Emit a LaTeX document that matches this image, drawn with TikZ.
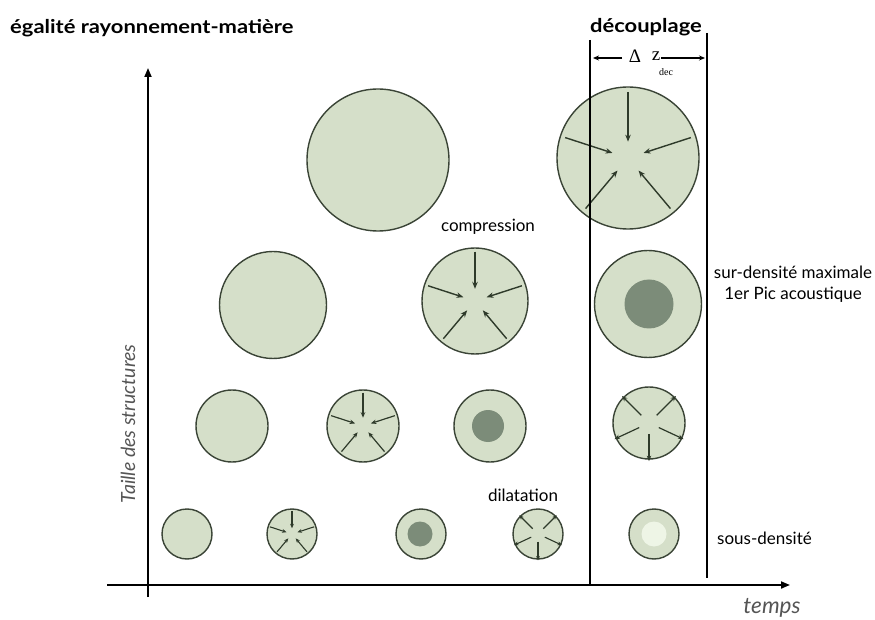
\documentclass[tikz,border=0pt]{standalone}
\usepackage{fontspec}
\setmainfont{Lato}
\newfontfamily\widebold[FakeStretch=1.155]{Lato}
\newfontfamily\seriffont{Liberation Serif}
\usetikzlibrary{calc,arrows.meta}
\definecolor{ballfill}{HTML}{D5DFC9}
\definecolor{balledge}{HTML}{3A4436}
\definecolor{darkcore}{HTML}{7C8C79}
\definecolor{lightcore}{HTML}{EEF5E6}
\definecolor{arrowcol}{HTML}{2E3A2A}
\definecolor{axislabel}{HTML}{555555}
\newcommand{\comprarrows}[2]{%
  \foreach \a in {90,162,18,230,310}
    \draw[inarr] ($(#1.center)+(\a:{0.93*#2})$) -- ($(#1.center)+(\a:{0.23*#2})$);}
\newcommand{\dilarrows}[2]{%
  \foreach \a in {135,45,205,335,270}
    \draw[inarr] ($(#1.center)+(\a:{0.3*#2})$) -- ($(#1.center)+(\a:{1.06*#2})$);}
\begin{document}
\begin{tikzpicture}[x=1pt,y=1pt,
  ball/.style={circle,draw=balledge,fill=ballfill,line width=1.4pt,inner sep=0pt,outer sep=0pt},
  core/.style={circle,fill=darkcore,inner sep=0pt,outer sep=0pt},
  lcore/.style={circle,fill=lightcore,inner sep=0pt,outer sep=0pt},
  inarr/.style={draw=arrowcol,line width=1.4pt,-{Stealth[length=7pt,width=5.5pt]}},
  axis/.style={line width=1.8pt,-{Triangle[length=9pt,width=7pt]}},
  bar/.style={line width=1.8pt},
  lab/.style={font=\fontsize{17}{21}\selectfont,inner sep=0pt},
  titlelab/.style={font=\widebold\fontsize{19}{22}\selectfont\bfseries,inner sep=0pt},
  axlab/.style={font=\fontsize{22.5}{26}\selectfont\itshape,text=axislabel,inner sep=0pt}]
\useasboundingbox (0,0) rectangle (875,619);
% axes
\coordinate (yb) at (148,22);
\coordinate (yt) at (148,551);
\coordinate (xl) at (107,34);
\coordinate (xr) at (790,34);
\draw[axis] (yb) -- (yt);
\draw[axis] (xl) -- (xr);
% decoupling lines
\coordinate (d1t) at (590,579);
\coordinate (d1b) at (590,34);
\coordinate (d2t) at (707,586);
\coordinate (d2b) at (707,41);
% circles
\node[ball,minimum size=142pt] (A1) at (378,459) {};
\node[ball,minimum size=142pt] (A2) at (628,461) {};
\node[ball,minimum size=107pt] (B1) at (273,314) {};
\node[ball,minimum size=106pt] (B2) at (475,318) {};
\node[ball,minimum size=107pt] (B3) at (648,315) {};
\node[core,minimum size=49pt] (B3c) at (649,315) {};
\node[ball,minimum size=72pt] (C1) at (232,193) {};
\node[ball,minimum size=72pt] (C2) at (363,193) {};
\node[ball,minimum size=72pt] (C3) at (490,193) {};
\node[core,minimum size=32pt] (C3c) at (488,193) {};
\node[ball,minimum size=72pt] (C4) at (649,196) {};
\node[ball,minimum size=50pt] (D1) at (187,85) {};
\node[ball,minimum size=50pt] (D2) at (292,85) {};
\node[ball,minimum size=50pt] (D3) at (421,85) {};
\node[core,minimum size=25pt] (D3c) at (420,85) {};
\node[ball,minimum size=50pt] (D4) at (538,85) {};
\node[ball,minimum size=50pt] (D5) at (654,85) {};
\node[lcore,minimum size=25pt] (D5c) at (654,85) {};
% arrows inside
\comprarrows{A2}{71}
\comprarrows{B2}{53}
\begin{scope}[inarr/.append style={line width=1.2pt,-{Stealth[length=5.5pt,width=4.5pt]}}]
\comprarrows{C2}{36}
\dilarrows{C4}{36}
\end{scope}
\begin{scope}[inarr/.append style={line width=1.1pt,-{Stealth[length=4.5pt,width=3.8pt]}}]
\comprarrows{D2}{25}
\dilarrows{D4}{25}
\end{scope}
% decoupling lines drawn over
\draw[bar] (d1t) -- (d1b);
\draw[bar] (d2t) -- (d2b);
% delta z
\coordinate (dzl) at (593,561);
\coordinate (dzla) at (622,561);
\coordinate (dzr) at (705,561);
\coordinate (dzra) at (661,561);
\draw[line width=1.1pt,-{Stealth[length=6pt,width=5pt]}] (dzla) -- (dzl);
\draw[line width=1.1pt,-{Stealth[length=6pt,width=5pt]}] (dzra) -- (dzr);
\node[font=\seriffont\fontsize{19}{20}\selectfont,inner sep=0pt] (dz) at (635,563) {Δ};
\node[font=\seriffont\fontsize{19}{20}\selectfont,inner sep=0pt] (zz) at (656,563) {z};
\node[font=\seriffont\fontsize{10}{11}\selectfont,inner sep=0pt] (dec) at (666,547) {dec};
% labels
\node[titlelab,anchor=west] (t1) at (10,591) {égalité rayonnement-matière};
\node[titlelab] (t2) at (646,592) {découplage};
\node[lab,align=center] (sd) at (793,335) {sur-densité maximale\\1er Pic acoustique};
\node[lab,anchor=west] (sous) at (717,81) {sous-densité};
\node[lab] (comp) at (488,392) {compression};
\node[lab] (dil) at (523,124) {dilatation};
\node[axlab] (tps) at (772,11) {temps};
\node[axlab,rotate=90,font=\fontsize{19.5}{22}\selectfont\itshape] (taille) at (128,195) {Taille des structures};
\end{tikzpicture}
\end{document}
